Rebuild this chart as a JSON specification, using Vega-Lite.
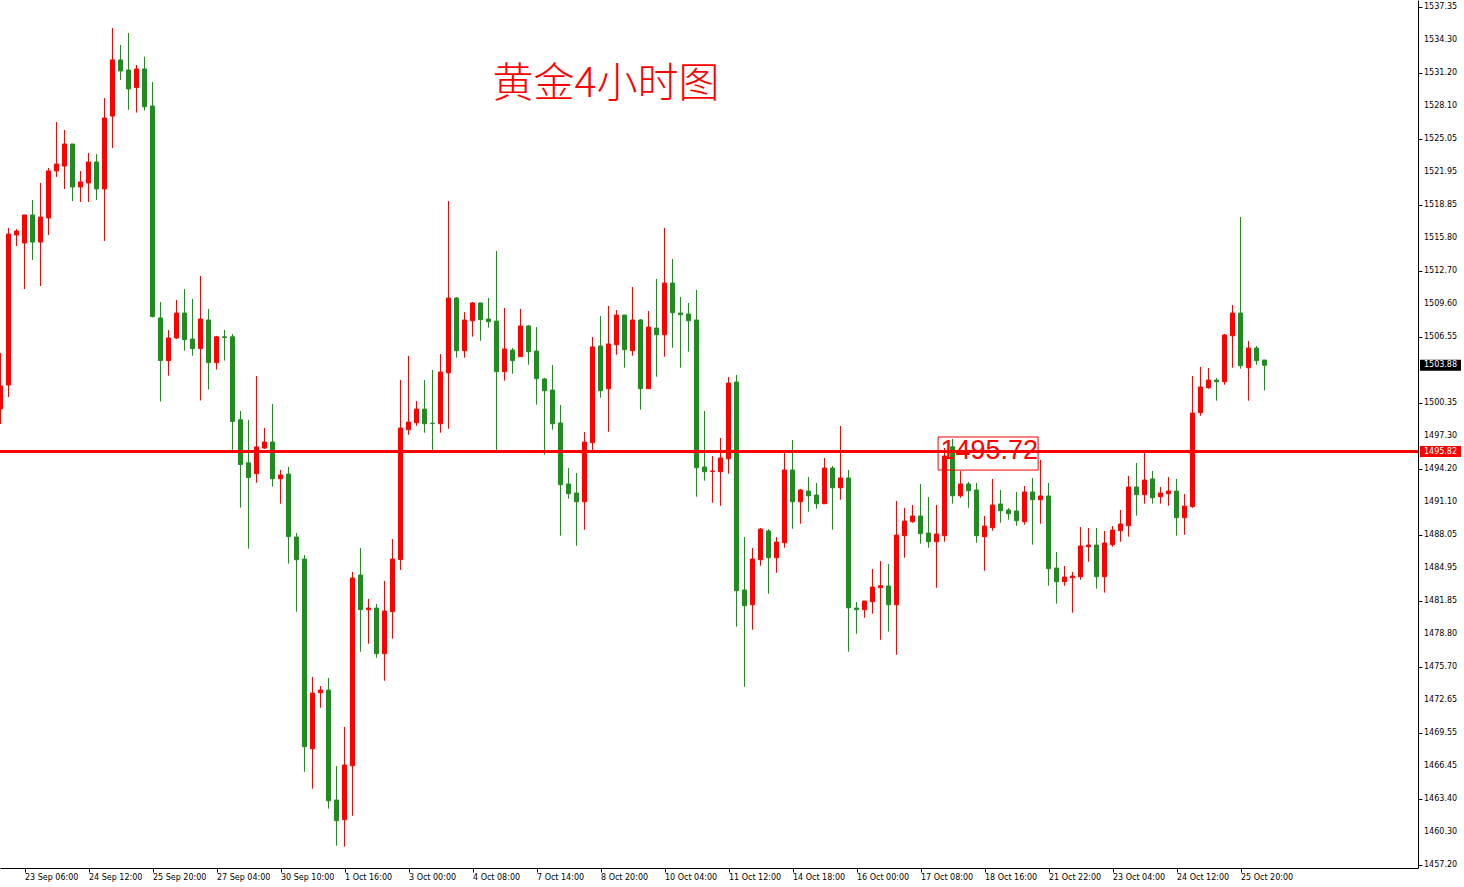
{
  "$schema": "https://vega.github.io/schema/vega-lite/v6.json",
  "width": 1418,
  "height": 868,
  "autosize": {"type": "none"},
  "padding": {"left": 0, "top": 0, "right": 46, "bottom": 19},
  "background": "white",
  "config": {
    "view": {"stroke": null},
    "axis": {"labelOverlap": false, "labelBound": false, "labelFlush": false, "grid": false, "title": null,
      "labelFont": "DejaVu Sans", "labelFontSize": 8, "labelColor": "#000", "tickColor": "#000", "domainColor": "#000", "tickSize": 4}
  },
  "datasets": {
    "ylabels": [
      {"v":1457.20},{"v":1460.30},{"v":1463.40},{"v":1466.45},{"v":1469.55},{"v":1472.65},{"v":1475.70},{"v":1478.80},{"v":1481.85},{"v":1484.95},{"v":1488.05},{"v":1491.10},{"v":1494.20},{"v":1497.30},{"v":1500.35},{"v":1506.55},{"v":1509.60},{"v":1512.70},{"v":1515.80},{"v":1518.85},{"v":1521.95},{"v":1525.05},{"v":1528.10},{"v":1531.20},{"v":1534.30},{"v":1537.35}
    ]
  },
  "data": {"values": [
    {"i":0,"o":1499.80,"h":1505.03,"l":1498.39,"c":1501.95},
    {"i":1,"o":1502.04,"h":1516.70,"l":1500.92,"c":1516.14},
    {"i":2,"o":1516.05,"h":1516.61,"l":1515.02,"c":1516.42},
    {"i":3,"o":1515.30,"h":1517.92,"l":1511.00,"c":1517.92},
    {"i":4,"o":1517.92,"h":1519.32,"l":1513.71,"c":1515.39},
    {"i":5,"o":1515.39,"h":1520.91,"l":1511.28,"c":1517.73},
    {"i":6,"o":1517.64,"h":1522.31,"l":1516.05,"c":1522.03},
    {"i":7,"o":1522.03,"h":1526.60,"l":1521.47,"c":1522.68},
    {"i":8,"o":1522.49,"h":1525.86,"l":1520.35,"c":1524.55},
    {"i":9,"o":1524.55,"h":1524.55,"l":1519.22,"c":1520.53},
    {"i":10,"o":1520.53,"h":1522.03,"l":1519.13,"c":1521.00},
    {"i":11,"o":1520.91,"h":1523.71,"l":1519.13,"c":1522.87},
    {"i":12,"o":1522.87,"h":1523.61,"l":1519.32,"c":1520.35},
    {"i":13,"o":1520.35,"h":1528.85,"l":1515.49,"c":1526.98},
    {"i":14,"o":1527.16,"h":1535.38,"l":1524.18,"c":1532.40},
    {"i":15,"o":1532.40,"h":1533.80,"l":1530.53,"c":1531.37},
    {"i":16,"o":1531.46,"h":1534.92,"l":1527.73,"c":1529.69},
    {"i":17,"o":1529.83,"h":1531.93,"l":1527.48,"c":1531.56},
    {"i":18,"o":1531.56,"h":1532.70,"l":1527.67,"c":1528.03},
    {"i":19,"o":1528.10,"h":1530.34,"l":1508.34,"c":1508.44},
    {"i":20,"o":1508.30,"h":1509.79,"l":1500.50,"c":1504.32},
    {"i":21,"o":1504.32,"h":1507.18,"l":1502.91,"c":1506.43},
    {"i":22,"o":1506.43,"h":1509.98,"l":1506.33,"c":1508.76},
    {"i":23,"o":1508.76,"h":1511.00,"l":1505.25,"c":1506.28},
    {"i":24,"o":1506.33,"h":1510.07,"l":1504.77,"c":1505.45},
    {"i":25,"o":1505.45,"h":1512.22,"l":1500.59,"c":1508.20},
    {"i":26,"o":1508.11,"h":1509.14,"l":1501.62,"c":1504.13},
    {"i":27,"o":1504.13,"h":1506.63,"l":1503.49,"c":1506.54},
    {"i":28,"o":1506.54,"h":1507.18,"l":1504.32,"c":1506.47},
    {"i":29,"o":1506.54,"h":1506.80,"l":1495.99,"c":1498.63},
    {"i":30,"o":1498.79,"h":1499.61,"l":1490.59,"c":1494.61},
    {"i":31,"o":1494.77,"h":1498.79,"l":1486.76,"c":1493.39},
    {"i":32,"o":1493.75,"h":1502.88,"l":1492.91,"c":1496.25},
    {"i":33,"o":1496.15,"h":1498.02,"l":1496.06,"c":1496.71},
    {"i":34,"o":1496.71,"h":1500.26,"l":1492.54,"c":1493.28},
    {"i":35,"o":1493.28,"h":1494.10,"l":1490.95,"c":1493.63},
    {"i":36,"o":1493.72,"h":1494.38,"l":1485.35,"c":1487.87},
    {"i":37,"o":1487.84,"h":1488.21,"l":1480.86,"c":1485.72},
    {"i":38,"o":1485.78,"h":1486.16,"l":1465.91,"c":1468.25},
    {"i":39,"o":1468.06,"h":1474.76,"l":1464.33,"c":1473.26},
    {"i":40,"o":1473.29,"h":1473.92,"l":1471.89,"c":1473.54},
    {"i":41,"o":1473.54,"h":1474.67,"l":1462.46,"c":1463.20},
    {"i":42,"o":1463.27,"h":1466.45,"l":1459.00,"c":1461.34},
    {"i":43,"o":1461.43,"h":1470.09,"l":1458.91,"c":1466.54},
    {"i":44,"o":1466.47,"h":1484.57,"l":1461.80,"c":1484.01},
    {"i":45,"o":1484.29,"h":1486.81,"l":1477.12,"c":1481.05},
    {"i":46,"o":1481.05,"h":1482.05,"l":1477.87,"c":1481.20},
    {"i":47,"o":1481.20,"h":1481.58,"l":1476.56,"c":1476.94},
    {"i":48,"o":1476.94,"h":1483.73,"l":1474.41,"c":1480.92},
    {"i":49,"o":1480.86,"h":1487.65,"l":1478.34,"c":1485.78},
    {"i":50,"o":1485.74,"h":1502.50,"l":1484.75,"c":1498.02},
    {"i":51,"o":1497.86,"h":1504.75,"l":1497.39,"c":1498.58},
    {"i":52,"o":1498.51,"h":1500.54,"l":1498.23,"c":1499.79},
    {"i":53,"o":1499.79,"h":1502.50,"l":1497.58,"c":1498.42},
    {"i":54,"o":1498.46,"h":1503.44,"l":1495.84,"c":1498.44},
    {"i":55,"o":1498.42,"h":1504.93,"l":1497.58,"c":1503.25},
    {"i":56,"o":1503.18,"h":1519.22,"l":1497.95,"c":1510.16},
    {"i":57,"o":1510.16,"h":1510.26,"l":1504.59,"c":1505.24},
    {"i":58,"o":1505.24,"h":1508.85,"l":1504.59,"c":1508.11},
    {"i":59,"o":1508.04,"h":1509.79,"l":1506.55,"c":1509.70},
    {"i":60,"o":1509.70,"h":1509.70,"l":1506.17,"c":1508.14},
    {"i":61,"o":1508.20,"h":1510.16,"l":1507.39,"c":1507.95},
    {"i":62,"o":1508.01,"h":1514.55,"l":1495.87,"c":1503.28},
    {"i":63,"o":1503.28,"h":1509.23,"l":1502.44,"c":1505.40},
    {"i":64,"o":1505.30,"h":1505.49,"l":1503.09,"c":1504.31},
    {"i":65,"o":1504.68,"h":1509.14,"l":1504.68,"c":1507.55},
    {"i":66,"o":1507.55,"h":1507.64,"l":1503.93,"c":1505.15},
    {"i":67,"o":1505.21,"h":1507.45,"l":1500.20,"c":1502.63},
    {"i":68,"o":1502.60,"h":1502.69,"l":1495.53,"c":1501.50},
    {"i":69,"o":1501.57,"h":1503.90,"l":1497.86,"c":1498.42},
    {"i":70,"o":1498.49,"h":1500.17,"l":1487.96,"c":1492.72},
    {"i":71,"o":1492.79,"h":1494.28,"l":1491.41,"c":1491.88},
    {"i":72,"o":1491.95,"h":1493.82,"l":1487.02,"c":1491.13},
    {"i":73,"o":1491.13,"h":1497.65,"l":1488.52,"c":1496.71},
    {"i":74,"o":1496.65,"h":1506.52,"l":1495.90,"c":1505.59},
    {"i":75,"o":1505.68,"h":1508.48,"l":1500.85,"c":1501.50},
    {"i":76,"o":1501.69,"h":1509.42,"l":1497.67,"c":1505.87},
    {"i":77,"o":1505.80,"h":1509.04,"l":1504.87,"c":1508.57},
    {"i":78,"o":1508.57,"h":1508.57,"l":1503.65,"c":1505.33},
    {"i":79,"o":1505.24,"h":1511.19,"l":1504.77,"c":1508.11},
    {"i":80,"o":1508.11,"h":1508.20,"l":1499.73,"c":1501.69},
    {"i":81,"o":1501.69,"h":1508.95,"l":1501.69,"c":1507.45},
    {"i":82,"o":1507.36,"h":1511.94,"l":1502.81,"c":1506.73},
    {"i":83,"o":1506.73,"h":1516.70,"l":1504.68,"c":1511.56},
    {"i":84,"o":1511.56,"h":1513.81,"l":1505.52,"c":1508.79},
    {"i":85,"o":1508.76,"h":1510.26,"l":1503.65,"c":1508.60},
    {"i":86,"o":1508.67,"h":1509.70,"l":1505.15,"c":1508.04},
    {"i":87,"o":1508.11,"h":1510.91,"l":1491.60,"c":1494.31},
    {"i":88,"o":1494.38,"h":1499.61,"l":1493.10,"c":1493.94},
    {"i":89,"o":1493.96,"h":1495.40,"l":1491.04,"c":1494.00},
    {"i":90,"o":1493.94,"h":1497.09,"l":1490.76,"c":1495.22},
    {"i":91,"o":1495.15,"h":1502.78,"l":1493.75,"c":1502.22},
    {"i":92,"o":1502.32,"h":1502.97,"l":1479.46,"c":1482.82},
    {"i":93,"o":1482.89,"h":1487.84,"l":1473.85,"c":1481.42},
    {"i":94,"o":1481.51,"h":1486.81,"l":1479.18,"c":1485.78},
    {"i":95,"o":1485.72,"h":1488.68,"l":1485.16,"c":1488.58},
    {"i":96,"o":1488.40,"h":1488.58,"l":1482.54,"c":1485.90},
    {"i":97,"o":1485.90,"h":1487.84,"l":1484.50,"c":1487.37},
    {"i":98,"o":1487.30,"h":1495.96,"l":1486.84,"c":1494.10},
    {"i":99,"o":1494.10,"h":1496.90,"l":1488.61,"c":1491.13},
    {"i":100,"o":1491.13,"h":1492.32,"l":1489.08,"c":1492.23},
    {"i":101,"o":1492.13,"h":1493.44,"l":1490.20,"c":1491.69},
    {"i":102,"o":1491.76,"h":1492.88,"l":1490.48,"c":1490.95},
    {"i":103,"o":1490.95,"h":1495.22,"l":1490.95,"c":1494.28},
    {"i":104,"o":1494.28,"h":1494.47,"l":1488.52,"c":1492.44},
    {"i":105,"o":1492.44,"h":1498.21,"l":1491.32,"c":1493.35},
    {"i":106,"o":1493.35,"h":1494.10,"l":1477.12,"c":1481.23},
    {"i":107,"o":1481.20,"h":1481.76,"l":1478.80,"c":1481.05},
    {"i":108,"o":1481.05,"h":1481.86,"l":1480.30,"c":1481.86},
    {"i":109,"o":1481.79,"h":1484.85,"l":1480.67,"c":1483.17},
    {"i":110,"o":1483.10,"h":1485.59,"l":1478.24,"c":1483.29},
    {"i":111,"o":1483.26,"h":1485.31,"l":1479.00,"c":1481.51},
    {"i":112,"o":1481.51,"h":1491.20,"l":1476.84,"c":1488.02},
    {"i":113,"o":1487.96,"h":1490.55,"l":1485.90,"c":1489.33},
    {"i":114,"o":1489.27,"h":1490.83,"l":1489.17,"c":1489.80},
    {"i":115,"o":1489.80,"h":1492.79,"l":1487.21,"c":1488.15},
    {"i":116,"o":1488.21,"h":1491.57,"l":1486.84,"c":1487.40},
    {"i":117,"o":1487.40,"h":1490.83,"l":1483.10,"c":1488.12},
    {"i":118,"o":1487.96,"h":1496.15,"l":1487.40,"c":1495.40},
    {"i":119,"o":1496.27,"h":1497.00,"l":1490.95,"c":1491.69},
    {"i":120,"o":1491.69,"h":1494.00,"l":1491.51,"c":1492.79},
    {"i":121,"o":1492.79,"h":1492.98,"l":1490.57,"c":1492.16},
    {"i":122,"o":1492.23,"h":1492.88,"l":1487.30,"c":1487.96},
    {"i":123,"o":1487.87,"h":1489.80,"l":1484.69,"c":1488.86},
    {"i":124,"o":1488.71,"h":1493.26,"l":1488.43,"c":1490.83},
    {"i":125,"o":1490.92,"h":1492.23,"l":1489.17,"c":1490.29},
    {"i":126,"o":1490.36,"h":1490.55,"l":1489.45,"c":1490.01},
    {"i":127,"o":1490.27,"h":1492.04,"l":1488.89,"c":1489.36},
    {"i":128,"o":1489.27,"h":1492.60,"l":1488.99,"c":1492.04},
    {"i":129,"o":1492.04,"h":1493.35,"l":1487.12,"c":1491.32},
    {"i":130,"o":1491.32,"h":1495.03,"l":1489.08,"c":1491.67},
    {"i":131,"o":1491.67,"h":1492.88,"l":1483.29,"c":1484.88},
    {"i":132,"o":1484.94,"h":1486.44,"l":1481.61,"c":1483.66},
    {"i":133,"o":1483.66,"h":1485.13,"l":1483.29,"c":1484.10},
    {"i":134,"o":1484.03,"h":1484.57,"l":1480.77,"c":1484.19},
    {"i":135,"o":1484.13,"h":1488.77,"l":1483.85,"c":1487.00},
    {"i":136,"o":1486.93,"h":1488.68,"l":1485.53,"c":1487.09},
    {"i":137,"o":1487.09,"h":1488.68,"l":1483.01,"c":1484.13},
    {"i":138,"o":1484.13,"h":1488.40,"l":1482.64,"c":1487.28},
    {"i":139,"o":1487.12,"h":1488.87,"l":1486.93,"c":1488.49},
    {"i":140,"o":1488.43,"h":1490.36,"l":1487.40,"c":1489.05},
    {"i":141,"o":1488.89,"h":1493.54,"l":1487.87,"c":1492.51},
    {"i":142,"o":1492.51,"h":1494.75,"l":1489.83,"c":1491.79},
    {"i":143,"o":1491.79,"h":1495.96,"l":1490.95,"c":1493.16},
    {"i":144,"o":1493.26,"h":1494.00,"l":1490.95,"c":1491.51},
    {"i":145,"o":1491.60,"h":1492.51,"l":1490.95,"c":1491.95},
    {"i":146,"o":1491.88,"h":1493.44,"l":1490.76,"c":1492.13},
    {"i":147,"o":1492.13,"h":1493.26,"l":1487.96,"c":1489.64},
    {"i":148,"o":1489.64,"h":1491.85,"l":1488.05,"c":1490.73},
    {"i":149,"o":1490.67,"h":1502.88,"l":1490.57,"c":1499.42},
    {"i":150,"o":1499.45,"h":1503.72,"l":1499.17,"c":1501.85},
    {"i":151,"o":1501.78,"h":1503.62,"l":1501.69,"c":1502.50},
    {"i":152,"o":1502.50,"h":1502.69,"l":1500.57,"c":1502.34},
    {"i":153,"o":1502.34,"h":1506.80,"l":1502.06,"c":1506.71},
    {"i":154,"o":1506.64,"h":1509.51,"l":1503.65,"c":1508.76},
    {"i":155,"o":1508.76,"h":1517.73,"l":1503.56,"c":1503.84},
    {"i":156,"o":1503.65,"h":1506.15,"l":1500.57,"c":1505.49},
    {"i":157,"o":1505.49,"h":1505.68,"l":1503.93,"c":1504.31},
    {"i":158,"o":1504.37,"h":1504.37,"l":1501.53,"c":1503.88}
  ]},
  "layer": [
    {
      "mark": {"type": "rule", "strokeWidth": 1},
      "encoding": {
        "x": {"field": "i", "type": "quantitative",
          "scale": {"domain": [-0.0625, 177.1875], "nice": false, "zero": false, "padding": 0},
          "axis": {"orient": "bottom", "labelOverlap": false,
            "values": [3,11,19,27,35,43,51,59,67,75,83,91,99,107,115,123,131,139,147,155],
            "labelExpr": "['23 Sep 06:00','24 Sep 12:00','25 Sep 20:00','27 Sep 04:00','30 Sep 10:00','1 Oct 16:00','3 Oct 00:00','4 Oct 08:00','7 Oct 14:00','8 Oct 20:00','10 Oct 04:00','11 Oct 12:00','14 Oct 18:00','16 Oct 00:00','17 Oct 08:00','18 Oct 16:00','21 Oct 22:00','23 Oct 04:00','24 Oct 12:00','25 Oct 20:00'][round((datum.value-3)/8)]",
            "labelAlign": "left", "labelBaseline": "top", "labelPadding": 1, "labelOffset": 0}},
        "y": {"field": "l", "type": "quantitative",
          "scale": {"domain": [1456.92, 1538.0], "nice": false, "zero": false, "padding": 0},
          "axis": {"orient": "right", "labels": false,
            "values": [1457.20,1460.30,1463.40,1466.45,1469.55,1472.65,1475.70,1478.80,1481.85,1484.95,1488.05,1491.10,1494.20,1497.30,1500.35,1503.45,1506.55,1509.60,1512.70,1515.80,1518.85,1521.95,1525.05,1528.10,1531.20,1534.30,1537.35]}},
        "y2": {"field": "h"},
        "color": {"condition": {"test": "datum.c >= datum.o", "value": "#FF0000"}, "value": "#228B22"}
      }
    },
    {
      "mark": {"type": "bar", "size": 4, "strokeWidth": 1},
      "encoding": {
        "x": {"field": "i", "type": "quantitative"},
        "y": {"field": "o", "type": "quantitative"},
        "y2": {"field": "c"},
        "fill": {"condition": {"test": "datum.c >= datum.o", "value": "#FF0000"}, "value": "#228B22"},
        "stroke": {"condition": {"test": "datum.c >= datum.o", "value": "#FF0000"}, "value": "#228B22"}
      }
    },
    {
      "data": {"values": [{"p": 1495.82}]},
      "mark": {"type": "rule", "strokeWidth": 3, "color": "#FF0000"},
      "encoding": {"y": {"field": "p", "type": "quantitative"}}
    },
    {
      "data": {"name": "ylabels"},
      "mark": {"type": "text", "font": "DejaVu Sans", "fontSize": 8, "color": "#000000", "align": "left", "baseline": "middle"},
      "encoding": {
        "x": {"datum": 177.94, "type": "quantitative"},
        "y": {"field": "v", "type": "quantitative"},
        "text": {"field": "v", "type": "quantitative", "format": ".2f"}
      }
    },
    {
      "data": {"values": [{"label": "1495.72"}]},
      "mark": {"type": "rect", "fill": null, "fillOpacity": 0, "stroke": "#FF0000", "strokeWidth": 1},
      "encoding": {
        "x": {"datum": 117.2, "type": "quantitative"},
        "x2": {"datum": 129.7},
        "y": {"datum": 1497.18, "type": "quantitative"},
        "y2": {"datum": 1494.09}
      }
    },
    {
      "data": {"values": [{"label": "1495.72"}]},
      "mark": {"type": "text", "font": "Liberation Sans", "fontSize": 27, "color": "#FF0000", "align": "left", "baseline": "alphabetic"},
      "encoding": {
        "x": {"datum": 117.5, "type": "quantitative"},
        "y": {"datum": 1495.12, "type": "quantitative"},
        "text": {"field": "label"}
      }
    },
    {
      "data": {"values": [{"title": "黄金4小时图"}]},
      "mark": {"type": "text", "font": "Noto Sans CJK SC", "fontSize": 41, "fontWeight": 300, "color": "#FF0000", "align": "center", "baseline": "middle"},
      "encoding": {
        "x": {"datum": 75.69, "type": "quantitative"},
        "y": {"datum": 1530.06, "type": "quantitative"},
        "text": {"field": "title"}
      }
    },
    {
      "data": {"values": [{"p": 1503.88, "kind": "bid"}, {"p": 1495.82, "kind": "line"}]},
      "mark": {"type": "tick", "orient": "horizontal", "size": 41, "thickness": 11, "opacity": 1},
      "encoding": {
        "x": {"datum": 180.0, "type": "quantitative"},
        "y": {"field": "p", "type": "quantitative"},
        "color": {"field": "kind", "type": "nominal", "scale": {"domain": ["bid", "line"], "range": ["#000000", "#FF0000"]}, "legend": null}
      }
    },
    {
      "data": {"values": [{"p": 1503.88}, {"p": 1495.82}]},
      "mark": {"type": "text", "font": "DejaVu Sans", "fontSize": 8, "color": "#FFFFFF", "align": "center", "baseline": "middle"},
      "encoding": {
        "x": {"datum": 180.0, "type": "quantitative"},
        "y": {"field": "p", "type": "quantitative"},
        "text": {"field": "p", "type": "quantitative", "format": ".2f"}
      }
    }
  ]
}
